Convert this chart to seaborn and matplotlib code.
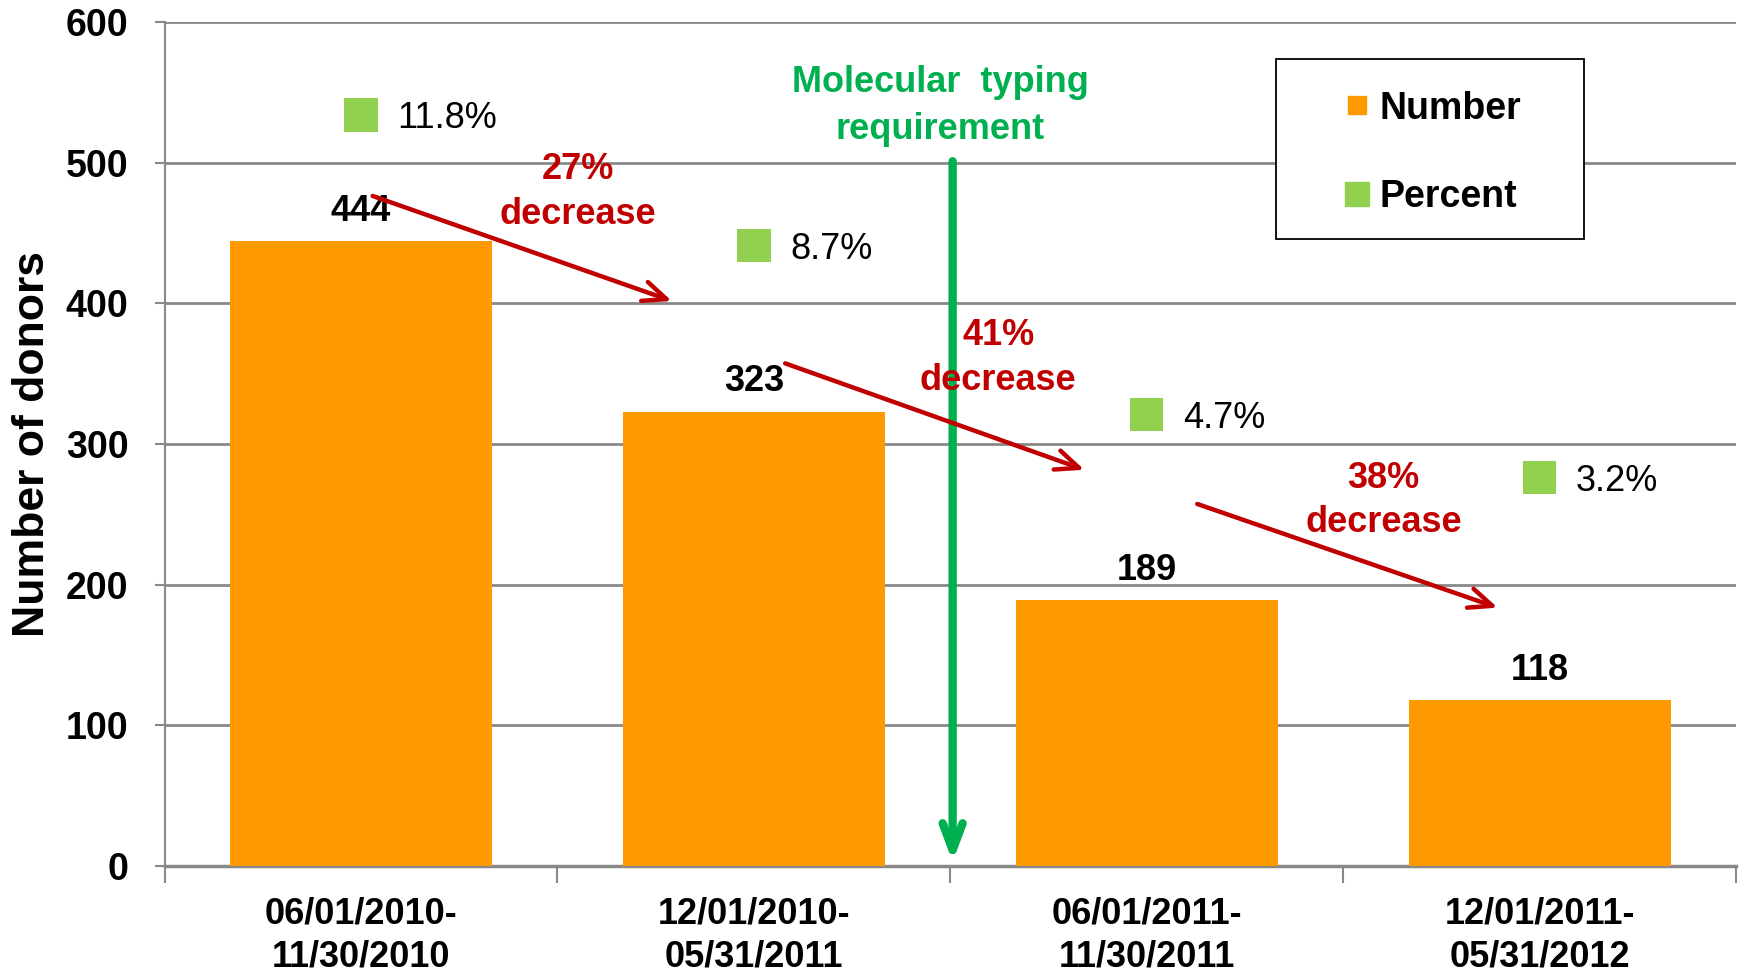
import numpy as np
import pandas as pd
import matplotlib
matplotlib.use("Agg")
import matplotlib.pyplot as plt
import matplotlib.patches as mpatches
from matplotlib.lines import Line2D
import seaborn as sns

# ---------------- data ----------------
periods = ["06/01/2010-\n11/30/2010", "12/01/2010-\n05/31/2011",
           "06/01/2011-\n11/30/2011", "12/01/2011-\n05/31/2012"]
donors = [444, 323, 189, 118]
percent = [11.8, 8.7, 4.7, 3.2]
yticks = [0, 100, 200, 300, 400, 500, 600]
decrease_labels = ["27%\ndecrease", "41%\ndecrease", "38%\ndecrease"]
event_label = "Molecular  typing\nrequirement"

# ---------------- style ----------------
sns.set_theme(style="white")
plt.rcParams["font.family"] = ["Liberation Sans", "DejaVu Sans"]
plt.rcParams["text.color"] = "black"
plt.rcParams["axes.labelcolor"] = "black"
plt.rcParams["xtick.labelcolor"] = "black"
plt.rcParams["ytick.labelcolor"] = "black"

ORANGE = "#FF9900"
GREEN_SQ = "#92D050"
RED = "#C00000"
GREEN = "#00B050"
GRID = "#898989"

fig = plt.figure(figsize=(17.43, 9.74), dpi=100)
ax = fig.add_axes([0.0944, 0.1109, 0.9016, 0.8665])

df = pd.DataFrame({"period": periods, "donors": donors})
sns.barplot(data=df, x="period", y="donors", color=ORANGE, saturation=1,
            width=0.667, ax=ax, edgecolor="none", zorder=3)

ax.set_xlim(-0.5, len(periods) - 0.5)
ax.set_ylim(0, 600)
ax.set_yticks(yticks)
ax.set_yticklabels([str(t) for t in yticks], fontsize=27, fontweight="bold")
ax.set_axisbelow(True)
ax.yaxis.grid(True, color=GRID, lw=2.0)
ax.xaxis.grid(False)

for s in ["top", "right"]:
    ax.spines[s].set_visible(False)
ax.spines["left"].set_color(GRID)
ax.spines["left"].set_linewidth(1.5)
ax.spines["bottom"].set_color(GRID)
ax.spines["bottom"].set_linewidth(2.5)

ax.tick_params(axis="y", which="major", direction="out", length=7, width=1.5,
               color=GRID, pad=19, left=True, labelcolor="black")
ax.set_xticks(range(len(periods)))
ax.set_xticklabels(periods, fontsize=26, fontweight="bold", linespacing=1.28)
ax.tick_params(axis="x", which="major", length=0, pad=22, labelcolor="black")
ax.set_xticks(np.arange(-0.5, len(periods), 1.0), minor=True)
ax.tick_params(axis="x", which="minor", direction="out", length=12, width=1.5,
               color=GRID, bottom=True)

ax.set_xlabel("")
ax.set_ylabel("Number of donors", fontsize=32, fontweight="bold", color="black")
ax.yaxis.label.set_va("center")
ax.yaxis.set_label_coords(-0.084, 0.5)

# bar value labels
ax.bar_label(ax.containers[0], labels=[str(v) for v in donors], padding=9,
             fontsize=26, fontweight="bold", color="black")

# percent markers on hidden secondary axis
ax2 = ax.twinx()
ax2.set_ylim(-6, 14)
sns.scatterplot(x=np.arange(len(percent)), y=percent, marker="s", s=24 ** 2,
                color=GREEN_SQ, edgecolor="none", ax=ax2, zorder=4, legend=False)
for i, p in enumerate(percent):
    ax2.annotate(f"{p}%", (i, p), xytext=(26, 0), textcoords="offset points",
                 ha="left", va="center_baseline", fontsize=26, color="black")
ax2.axis("off")

# molecular typing arrow
ax.annotate("", xy=(1.506, 1), xytext=(1.506, 503), annotation_clip=False,
            arrowprops=dict(arrowstyle="->,head_length=1.6,head_width=0.6",
                            color=GREEN, lw=6), zorder=5)
ax.text(1.474, 540, event_label, ha="center", va="center", fontsize=26,
        fontweight="bold", color=GREEN, linespacing=1.45, zorder=6)

# decrease arrows
arrows = [((0.023, 477), (0.798, 401)),
          ((1.073, 358), (1.848, 281)),
          ((2.122, 258), (2.900, 183))]
text_pos = [(0.552, 479), (1.622, 361), (2.603, 260)]
for (start, end), (tx, ty), lab in zip(arrows, text_pos, decrease_labels):
    ax.annotate("", xy=end, xytext=start, annotation_clip=False,
                arrowprops=dict(arrowstyle="->,head_length=1.4,head_width=0.6",
                                color=RED, lw=3.2), zorder=7)
    ax.text(tx, ty, lab, ha="center", va="center", fontsize=26,
            fontweight="bold", color=RED, linespacing=1.35, zorder=8)

# legend box
box = mpatches.Rectangle((0.707, 0.743), 0.196, 0.213, transform=ax.transAxes,
                         facecolor="white", edgecolor="black", lw=1.3, zorder=9)
ax.add_patch(box)
handles = [Line2D([], [], marker="s", linestyle="none", markersize=13.5,
                  color=ORANGE, label="Number"),
           Line2D([], [], marker="s", linestyle="none", markersize=17.5,
                  color=GREEN_SQ, label="Percent")]
leg = ax.legend(handles=handles, loc="center", bbox_to_anchor=(0.805, 0.845),
                frameon=False, prop={"size": 27, "weight": "bold"},
                labelspacing=1.4, handletextpad=0.1, handlelength=1.0,
                labelcolor="black")
leg.set_zorder(10)

fig.savefig("out.png", dpi=100)
